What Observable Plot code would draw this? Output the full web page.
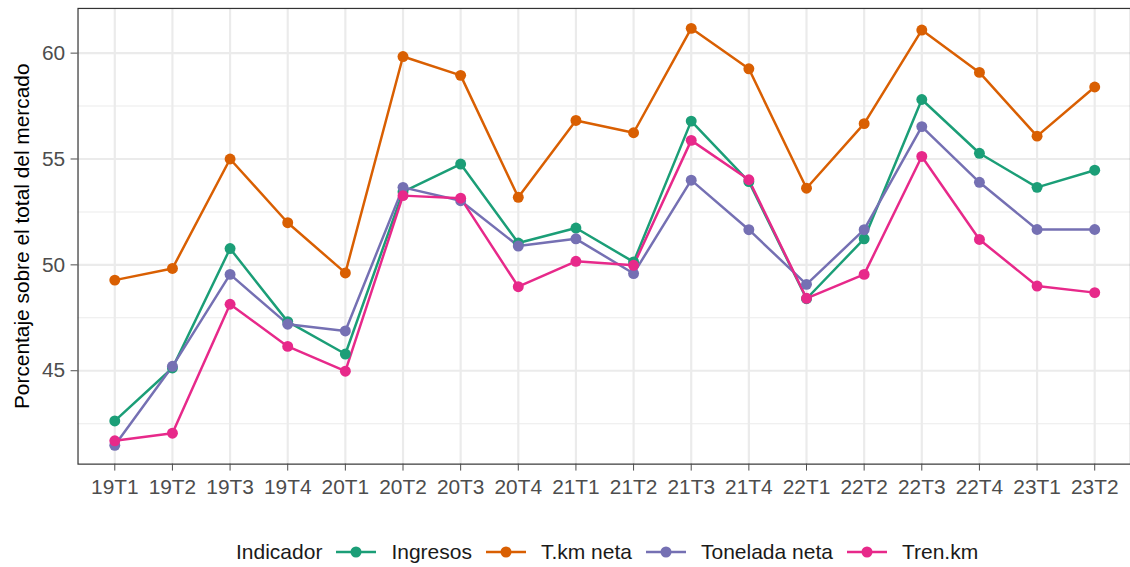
<!DOCTYPE html>
<html>
<head>
<meta charset="utf-8">
<script src="https://cdn.jsdelivr.net/npm/d3@7"></script>
<script src="https://cdn.jsdelivr.net/npm/@observablehq/plot@0.6"></script>
<style>
  html, body { margin: 0; padding: 0; overflow: hidden; background: white; }
  #chart { width: 1130px; height: 567px; overflow: hidden; position: relative; }
  #legend { display: flex; align-items: center; margin-top: 28px; height: 24px; line-height: 24px;
            padding-left: 236px; font-family: 'Liberation Sans', Arial, sans-serif; font-size: 21px; color: #1a1a1a; white-space: nowrap; }
  #legend svg { display: block; margin-left: 14px; margin-right: 15px; }
</style>
</head>
<body>
<div id="chart"></div>
<script>
const quarters = ["19T1","19T2","19T3","19T4","20T1","20T2","20T3","20T4","21T1","21T2","21T3","21T4","22T1","22T2","22T3","22T4","23T1","23T2"];
const seriesNames = ["Ingresos", "T.km neta", "Tonelada neta", "Tren.km"];
const seriesColors = ["#1B9E77", "#D95F02", "#7570B3", "#E7298A"];
const ingresos = [42.63, 45.13, 50.77, 47.32, 45.79, 53.45, 54.76, 51.03, 51.74, 50.14, 56.79, 53.93, 48.40, 51.23, 57.81, 55.27, 53.66, 54.47];
const tkmNeta = [49.28, 49.83, 55.00, 51.99, 49.62, 59.84, 58.95, 53.19, 56.82, 56.24, 61.17, 59.26, 53.62, 56.67, 61.09, 59.09, 56.08, 58.40];
const toneladaNeta = [41.48, 45.21, 49.55, 47.20, 46.88, 53.66, 53.03, 50.89, 51.23, 49.59, 54.00, 51.66, 49.08, 51.66, 56.53, 53.90, 51.67, 51.67];
const trenKm = [41.69, 42.05, 48.14, 46.15, 44.98, 53.27, 53.15, 48.97, 50.17, 49.98, 55.88, 54.02, 48.42, 49.55, 55.12, 51.20, 49.00, 48.69];
const majorTicks = [45, 50, 55, 60];
const minorTicks = [42.5, 47.5, 52.5, 57.5];
const yTitle = "Porcentaje sobre el total del mercado";
const legendTitle = "Indicador";

const seriesValues = [ingresos, tkmNeta, toneladaNeta, trenKm];
const data = quarters.flatMap((q, i) => seriesNames.map((name, s) => ({q, ind: name, v: seriesValues[s][i]})));

const font = "'Liberation Sans', Arial, sans-serif";
const chart = Plot.plot({
  width: 1137, height: 515,
  marginLeft: 78, marginRight: 0, marginTop: 8, marginBottom: 48.5,
  style: {fontFamily: font, fontSize: "21px", background: "white", overflow: "visible"},
  x: {type: "point", domain: quarters, padding: 0.6},
  y: {domain: [40.59, 62.11]},
  color: {domain: seriesNames, range: seriesColors},
  marks: [
    Plot.gridY(minorTicks, {stroke: "#ebebeb", strokeOpacity: 1, strokeWidth: 1.1}),
    Plot.gridY(majorTicks, {stroke: "#ebebeb", strokeOpacity: 1, strokeWidth: 2.2}),
    Plot.gridX(quarters, {stroke: "#ebebeb", strokeOpacity: 1, strokeWidth: 2.2}),
    Plot.line(data, {x: "q", y: "v", z: "ind", stroke: "ind", strokeWidth: 2.5}),
    Plot.dot(data, {x: "q", y: "v", fill: "ind", r: 5.5}),
    Plot.frame({stroke: "#333333", strokeWidth: 1.2}),
    Plot.axisX({tickSize: 7, tickPadding: 8, color: "#4d4d4d", label: null, fontSize: 21}),
    Plot.axisY(majorTicks, {tickSize: 7, tickPadding: 6, color: "#4d4d4d", label: null, fontSize: 21}),
    Plot.text([yTitle], {frameAnchor: "left", textAnchor: "middle", rotate: -90, dx: -56.5, fontSize: 21, fill: "#000000"})
  ]
});
document.getElementById("chart").appendChild(chart);

const legend = document.createElement("div");
legend.id = "legend";
const t = document.createElement("span");
t.textContent = legendTitle;
legend.appendChild(t);
seriesNames.forEach((name, i) => {
  const ns = "http://www.w3.org/2000/svg";
  const svg = document.createElementNS(ns, "svg");
  svg.setAttribute("width", 40); svg.setAttribute("height", 20);
  const line = document.createElementNS(ns, "line");
  line.setAttribute("x1", 0); line.setAttribute("x2", 40); line.setAttribute("y1", 10); line.setAttribute("y2", 10);
  line.setAttribute("stroke", seriesColors[i]); line.setAttribute("stroke-width", 2.5);
  const c = document.createElementNS(ns, "circle");
  c.setAttribute("cx", 20); c.setAttribute("cy", 10); c.setAttribute("r", 5.5); c.setAttribute("fill", seriesColors[i]);
  svg.appendChild(line); svg.appendChild(c);
  legend.appendChild(svg);
  const s = document.createElement("span");
  s.textContent = name;
  legend.appendChild(s);
});
document.getElementById("chart").appendChild(legend);
</script>
</body>
</html>
